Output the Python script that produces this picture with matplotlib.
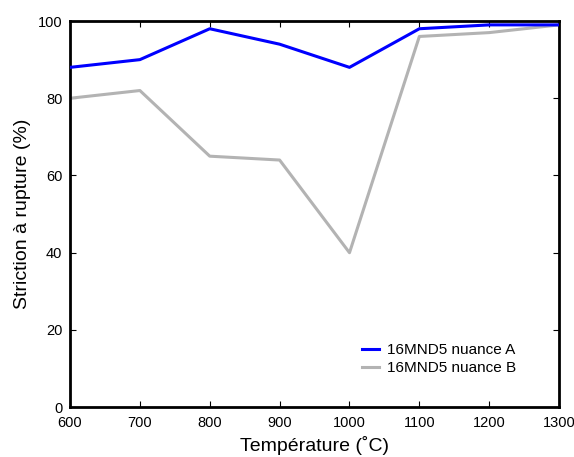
import matplotlib
matplotlib.use("Agg")
import matplotlib.pyplot as plt

plt.rcParams['font.family'] = ['Liberation Sans', 'DejaVu Sans']

temperature = [600, 700, 800, 900, 1000, 1100, 1200, 1300]
nuance_a = [88, 90, 98, 94, 88, 98, 99, 99]
nuance_b = [80, 82, 65, 64, 40, 96, 97, 99]

fig = plt.figure(figsize=(5.74, 4.57), dpi=100)
ax = fig.add_axes([0.122, 0.109, 0.852, 0.845])

ax.plot(temperature, nuance_b, color='#b3b3b3', linewidth=2.2, label='16MND5 nuance B', zorder=2)
ax.plot(temperature, nuance_a, color='#0000ff', linewidth=2.2, label='16MND5 nuance A', zorder=3)

ax.set_xlim(600, 1300)
ax.set_ylim(0, 100)
ax.set_xticks(range(600, 1301, 100))
ax.set_yticks(range(0, 101, 20))

for s in ax.spines.values():
    s.set_linewidth(2)
ax.tick_params(direction='in', top=True, right=True, length=4, width=0.8,
               labelsize=10.5)
ax.tick_params(axis='x', pad=6.5)
ax.tick_params(axis='y', pad=5.5)

ax.set_xlabel('Température (˚C)', fontsize=14, labelpad=4)
ax.set_ylabel('Striction à rupture (%)', fontsize=14, labelpad=5)

handles, labels = ax.get_legend_handles_labels()
ax.legend(handles[::-1], labels[::-1], loc='lower right', bbox_to_anchor=(0.912, 0.083),
          frameon=False, fontsize=11, handlelength=1.1, handletextpad=0.55,
          labelspacing=0.25, borderpad=0, borderaxespad=0)

fig.savefig('out.png', dpi=100)
